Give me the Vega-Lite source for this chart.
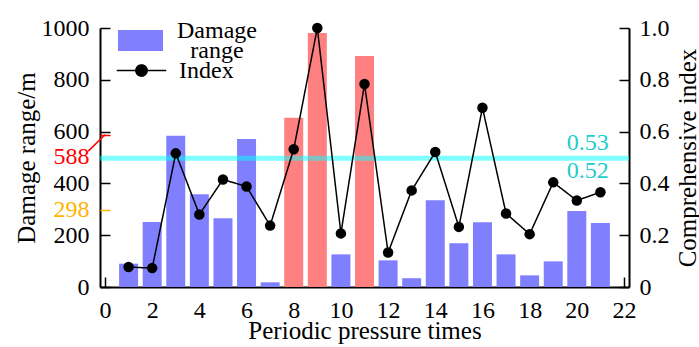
{
  "$schema": "https://vega.github.io/schema/vega-lite/v6.json",
  "width": 529,
  "height": 259,
  "autosize": {"type": "none"},
  "padding": {"left": 100, "top": 28, "right": 70, "bottom": 60},
  "background": "white",
  "config": {
    "view": {"stroke": null},
    "font": "Liberation Serif",
    "axis": {"zindex": 1, "grid": false, "domainColor": "black", "tickColor": "black", "labelColor": "black", "titleColor": "black", "titleFontWeight": "normal", "labelFont": "Liberation Serif", "titleFont": "Liberation Serif", "labelFontSize": 24, "titleFontSize": 25, "domainWidth": 2, "tickWidth": 1.5, "tickSize": -10, "labelFlush": false, "labelOverlap": false},
    "legend": {"labelFont": "Liberation Serif", "labelFontSize": 24, "labelColor": "black", "padding": 0, "title": null, "symbolSize": 2025, "labelOffset": 14}
  },
  "data": {
    "values": [
      {"t": 1, "range": 90, "index": 0.077, "type": "Damage range"},
      {"t": 2, "range": 251, "index": 0.073, "type": "Damage range"},
      {"t": 3, "range": 584, "index": 0.516, "type": "Damage range"},
      {"t": 4, "range": 358, "index": 0.28, "type": "Damage range"},
      {"t": 5, "range": 265, "index": 0.415, "type": "Damage range"},
      {"t": 6, "range": 571, "index": 0.388, "type": "Damage range"},
      {"t": 7, "range": 18, "index": 0.237, "type": "Damage range"},
      {"t": 8, "range": 653, "index": 0.532, "type": "Critical"},
      {"t": 9, "range": 981, "index": 1.0, "type": "Critical"},
      {"t": 10, "range": 126, "index": 0.207, "type": "Damage range"},
      {"t": 11, "range": 892, "index": 0.784, "type": "Critical"},
      {"t": 12, "range": 103, "index": 0.133, "type": "Damage range"},
      {"t": 13, "range": 34, "index": 0.373, "type": "Damage range"},
      {"t": 14, "range": 335, "index": 0.521, "type": "Damage range"},
      {"t": 15, "range": 169, "index": 0.232, "type": "Damage range"},
      {"t": 16, "range": 250, "index": 0.692, "type": "Damage range"},
      {"t": 17, "range": 126, "index": 0.284, "type": "Damage range"},
      {"t": 18, "range": 45, "index": 0.204, "type": "Damage range"},
      {"t": 19, "range": 99, "index": 0.404, "type": "Damage range"},
      {"t": 20, "range": 293, "index": 0.334, "type": "Damage range"},
      {"t": 21, "range": 247, "index": 0.366, "type": "Damage range"}
    ]
  },
  "layer": [
    {
      "mark": {"type": "bar", "size": 19},
      "encoding": {
        "x": {"field": "t", "type": "quantitative", "scale": {"domain": [0, 22], "nice": false, "zero": false},
          "axis": {"orient": "bottom", "values": [0, 2, 4, 6, 8, 10, 12, 14, 16, 18, 20, 22], "labelPadding": 21, "title": "Periodic pressure times", "titlePadding": -4}},
        "y": {"field": "range", "type": "quantitative", "scale": {"domain": [0, 1000], "nice": false},
          "axis": {"orient": "left", "values": [0, 200, 400, 600, 800, 1000], "format": "d", "labelPadding": 21, "title": "Damage range/m", "titlePadding": 2}},
        "color": {"field": "type", "type": "nominal",
          "scale": {"domain": ["Damage range", "Critical"], "range": ["#8080ff", "#ff8080"]},
          "legend": {
            "orient": "none", "legendX": 18, "legendY": -10,
            "values": ["Damage range"],
            "labelExpr": "['Damage', 'range']",
            "encode": {
              "symbols": {"update": {
                "shape": {"value": "M-1,-0.47H1V0.47H-1Z"},
                "fill": {"value": "#8080ff"},
                "strokeWidth": {"value": 0},
                "opacity": {"value": 1}
              }},
              "labels": {"update": {
                "lineHeight": {"value": 20},
                "align": {"value": "center"},
                "dx": {"value": 40},
                "dy": {"value": -10}
              }}
            }
          }}
      }
    },
    {
      "data": {"values": [{"note": "588"}]},
      "mark": {"type": "rule", "color": "#ff0000", "strokeWidth": 1.5, "clip": false},
      "encoding": {
        "x": {"datum": -0.71, "type": "quantitative", "scale": {"domain": [0, 22], "nice": false, "zero": false}},
        "x2": {"datum": 0},
        "y": {"datum": 524.5, "type": "quantitative", "scale": {"domain": [0, 1000], "nice": false},
          "axis": {"orient": "left", "values": [298, 588], "domain": false, "title": null, "format": "d", "labelPadding": 21,
            "labelColor": {"condition": {"test": "datum.value === 588", "value": "#ff0000"}, "value": "#ffb400"},
            "tickColor": {"condition": {"test": "datum.value === 588", "value": "#ff0000"}, "value": "#ffb400"},
            "labelOffset": {"condition": {"test": "datum.value === 588", "value": 22}, "value": 0}}},
        "y2": {"datum": 588}
      }
    },
    {
      "data": {"values": [{"note": "threshold"}]},
      "mark": {"type": "rule", "color": "#00ffff", "opacity": 0.5, "strokeWidth": 5},
      "encoding": {
        "y": {"datum": 0.497, "type": "quantitative", "scale": {"domain": [0, 1], "nice": false}, "axis": null}
      }
    },
    {
      "data": {"values": [{"note": "0.53"}]},
      "mark": {"type": "text", "text": "0.53", "align": "right", "baseline": "alphabetic", "dy": -8, "fontSize": 24, "font": "Liberation Serif", "color": "#22cccc"},
      "encoding": {
        "x": {"datum": 21.35, "type": "quantitative", "scale": {"domain": [0, 22], "nice": false, "zero": false}},
        "y": {"datum": 0.497, "type": "quantitative", "scale": {"domain": [0, 1], "nice": false}, "axis": null}
      }
    },
    {
      "data": {"values": [{"note": "0.52"}]},
      "mark": {"type": "text", "text": "0.52", "align": "right", "baseline": "alphabetic", "dy": 20, "fontSize": 24, "font": "Liberation Serif", "color": "#22cccc"},
      "encoding": {
        "x": {"datum": 21.35, "type": "quantitative", "scale": {"domain": [0, 22], "nice": false, "zero": false}},
        "y": {"datum": 0.497, "type": "quantitative", "scale": {"domain": [0, 1], "nice": false}, "axis": null}
      }
    },
    {
      "mark": {"type": "line", "strokeWidth": 1.5, "color": "#000000"},
      "encoding": {
        "x": {"field": "t", "type": "quantitative", "scale": {"domain": [0, 22], "nice": false, "zero": false}},
        "y": {"field": "index", "type": "quantitative", "scale": {"domain": [0, 1], "nice": false}, "axis": null},
        "strokeDash": {"datum": "Index", "type": "nominal", "scale": {"domain": ["Index"], "range": [[1, 0]]},
          "legend": {
            "orient": "none", "legendX": 18, "legendY": 19,
            "symbolType": "M-1.1,0H1.1M-0.25,0A0.25,0.25 0 1,0 0.25,0A0.25,0.25 0 1,0 -0.25,0Z",
            "symbolFillColor": "#000000", "symbolStrokeColor": "#000000", "symbolStrokeWidth": 1.5, "symbolOpacity": 1,
            "encode": {
              "symbols": {"update": {
                "fill": {"value": "#000000"},
                "stroke": {"value": "#000000"},
                "strokeWidth": {"value": 1.5},
                "opacity": {"value": 1}
              }}
            }
          }}
      }
    },
    {
      "mark": {"type": "point", "filled": true, "size": 110, "opacity": 1, "color": "#000000"},
      "encoding": {
        "x": {"field": "t", "type": "quantitative", "scale": {"domain": [0, 22], "nice": false, "zero": false}},
        "y": {"field": "index", "type": "quantitative", "scale": {"domain": [0, 1], "nice": false},
          "axis": {"orient": "right", "values": [0, 0.2, 0.4, 0.6, 0.8, 1.0], "labelExpr": "datum.value === 0 ? '0' : format(datum.value, '.1f')", "labelPadding": 20, "title": "Comprehensive index", "titleAngle": 270, "titleBaseline": "top", "titlePadding": 6}}
      }
    }
  ],
  "resolve": {"scale": {"y": "independent"}, "axis": {"y": "independent"}}
}
